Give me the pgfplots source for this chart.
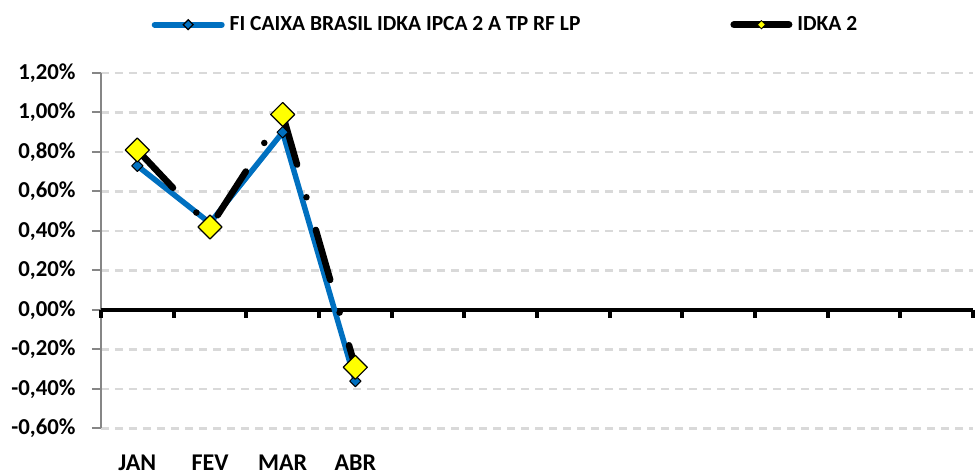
\documentclass[border=0pt]{standalone}
\usepackage{pgfplots}
\pgfplotsset{compat=1.18}
\usepackage{fontspec}
\setmainfont{Carlito}
\definecolor{cblue}{HTML}{0070C0}
\definecolor{cyellow}{HTML}{FFFF00}
\definecolor{cgrid}{HTML}{D9D9D9}
\definecolor{caxis}{HTML}{868686}
\newcommand{\lblfont}{\fontsize{10.75pt}{12pt}\selectfont\bfseries}
\newcommand{\yfont}{\fontsize{11.4pt}{13pt}\selectfont\bfseries}
\newcommand{\xfont}{\fontsize{12pt}{14pt}\selectfont\bfseries}
\begin{document}
\begin{tikzpicture}
\path[use as bounding box] (-50.5pt,-22.75pt) rectangle (437pt,214.25pt);
\begin{axis}[
  at={(0pt,0pt)}, anchor=south west,
  scale only axis, width=436pt, height=177.75pt,
  xmin=0, xmax=12, ymin=-0.6, ymax=1.2,
  clip=false,
  axis x line*=bottom, axis y line*=left,
  x axis line style={draw=none},
  y axis line style={-, draw=caxis, line width=1pt},
  xtick={0.5,1.5,2.5,3.5}, xticklabels={JAN,FEV,MAR,ABR},
  x tick style={draw=none},
  ytick={-0.6,-0.4,-0.2,0,0.2,0.4,0.6,0.8,1.0,1.2},
  yticklabels={{-0,60\%},{-0,40\%},{-0,20\%},{0,00\%},{0,20\%},{0,40\%},{0,60\%},{0,80\%},{1,00\%},{1,20\%}},
  y tick style={draw=caxis, line width=1pt},
  tick align=outside, major tick length=4.5pt,
  ymajorgrids,
  major grid style={draw=cgrid, line width=1.1pt, dash pattern=on 4.2pt off 2.8pt},
  tick label style={text=black},
  yticklabel style={font=\yfont, anchor=east, inner sep=0pt, xshift=-8pt},
  xticklabel style={font=\xfont, anchor=base, inner sep=0pt, yshift=-16.5pt},
  legend style={at={(0.4627,1.1359)}, anchor=center, draw=none, fill=none,
    legend columns=2, inner sep=0pt, font=\lblfont,
    nodes={inner sep=0pt},
    /tikz/every odd column/.append style={column sep=2.5pt},
    /tikz/every even column/.append style={column sep=75pt}},
]
\draw[black, line width=2pt] (axis cs:0,0) -- (axis cs:12,0);
\pgfplotsinvokeforeach{0,...,12}{
  \draw[black, line width=2pt] (axis cs:#1,0) -- ([yshift=-4pt]axis cs:#1,0);
}
\addplot[cblue, line width=2.75pt, line join=round,
  mark=square*, mark size=2pt,
  mark options={rotate=45, fill=cblue, draw=black, line width=0.5pt, solid},
  forget plot] coordinates {(0.5,0.73) (1.5,0.44) (2.5,0.90) (3.5,-0.36)};
\addplot[black, line width=3.25pt, line cap=round, line join=round,
  dash pattern=on 26pt off 17pt on 0pt off 17pt,
  mark=square*, mark size=4.25pt,
  mark options={rotate=45, fill=cyellow, draw=black, line width=0.6pt, solid},
  forget plot] coordinates {(0.5,0.81) (1.5,0.42) (2.5,0.99) (3.5,-0.29)};
\addlegendimage{legend image code/.code={
  \draw[cblue, line width=3pt, line cap=round] (1.5pt,0pt) -- (35pt,0pt);
  \draw[mark=square*, mark size=1.75pt, mark options={rotate=45, fill=cblue, draw=black, line width=0.6pt}] plot coordinates {(18.25pt,0pt)};
}}
\addlegendentry{FI CAIXA BRASIL IDKA IPCA 2 A TP RF LP}
\addlegendimage{legend image code/.code={
  \draw[black, line width=3.5pt, line cap=round] (1.75pt,0pt) -- (29.25pt,0pt);
  \draw[mark=square*, mark size=1.45pt, mark options={rotate=45, fill=cyellow, draw=black, line width=0.4pt}] plot coordinates {(15.5pt,0pt)};
}}
\addlegendentry{IDKA 2}
\end{axis}
\end{tikzpicture}
\end{document}
